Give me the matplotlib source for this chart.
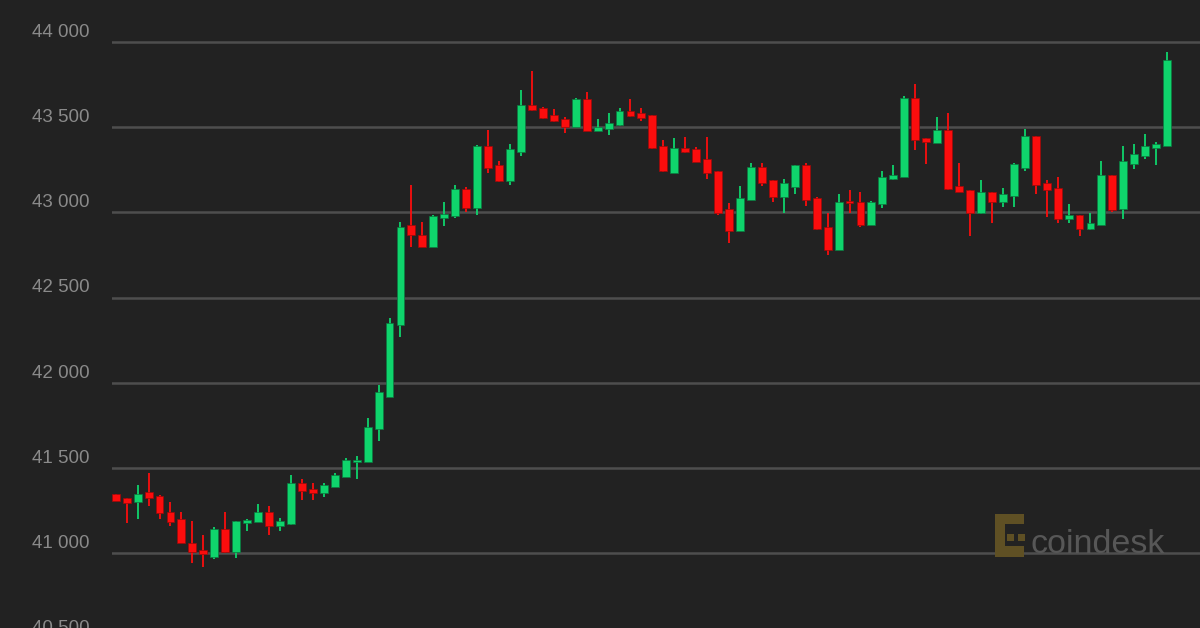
import numpy as np
import matplotlib.pyplot as plt
from matplotlib.patches import Rectangle
from matplotlib.transforms import blended_transform_factory

# OHLC for each candle (BTC/USD)
opens = [41344, 41321, 41297, 41358, 41335, 41243, 41198, 41061, 41018, 40978,
         41141, 41004, 41178, 41184, 41243, 41160, 41170, 41413, 41376, 41354,
         41389, 41444, 41537, 41536, 41726, 41918, 42339, 42926, 42867, 42798,
         42969, 42979, 43137, 43027, 43389, 43276, 43184, 43354, 43628, 43614,
         43569, 43546, 43501, 43663, 43478, 43491, 43513, 43595, 43581, 43569,
         43389, 43233, 43380, 43370, 43311, 43243, 43018, 42890, 43072, 43266,
         43188, 43092, 43151, 43278, 43086, 42916, 42779, 43067, 43063, 42926,
         43051, 43196, 43207, 43673, 43434, 43409, 43481, 43155, 43131, 42994,
         43119, 43061, 43096, 43258, 43448, 43174, 43141, 42963, 42984, 42900,
         42926, 43219, 43018, 43286, 43331, 43380, 43389]
highs = [41346, 41325, 41399, 41472, 41340, 41299, 41243, 41188, 41106, 41151,
         41243, 41190, 41198, 41288, 41276, 41207, 41458, 41432, 41409, 41413,
         41468, 41556, 41569, 41795, 41986, 42382, 42945, 43161, 42945, 42985,
         43059, 43161, 43151, 43395, 43483, 43301, 43403, 43718, 43830, 43616,
         43605, 43562, 43673, 43708, 43546, 43581, 43614, 43663, 43614, 43572,
         43423, 43434, 43444, 43386, 43444, 43245, 43053, 43155, 43292, 43288,
         43190, 43198, 43280, 43292, 43088, 42994, 43106, 43129, 43119, 43065,
         43243, 43276, 43683, 43751, 43436, 43560, 43585, 43288, 43133, 43188,
         43121, 43145, 43288, 43491, 43450, 43188, 43209, 43051, 42986, 42994,
         43301, 43221, 43389, 43403, 43458, 43415, 43941]
lows = [41305, 41174, 41198, 41276, 41198, 41160, 41061, 40939, 40916, 40963,
        41000, 40973, 41129, 41184, 41104, 41129, 41165, 41311, 41311, 41331,
        41389, 41444, 41432, 41536, 41660, 41918, 42270, 42798, 42798, 42798,
        42922, 42965, 43000, 42982, 43233, 43180, 43159, 43331, 43598, 43546,
        43532, 43468, 43500, 43475, 43475, 43454, 43510, 43563, 43536, 43373,
        43240, 43230, 43350, 43294, 43198, 42984, 42822, 42888, 43070, 43155,
        43061, 42996, 43106, 43037, 42895, 42748, 42777, 42998, 42916, 42924,
        43027, 43192, 43205, 43366, 43286, 43407, 43130, 43117, 42861, 42992,
        42939, 43031, 43031, 43243, 43110, 42973, 42939, 42939, 42861, 42894,
        42924, 43004, 42959, 43256, 43311, 43276, 43389]
closes = [41307, 41295, 41344, 41321, 41233, 41184, 41061, 41004, 40994, 41141,
          41004, 41188, 41194, 41243, 41160, 41188, 41413, 41364, 41354, 41399,
          41458, 41546, 41546, 41738, 41943, 42352, 42912, 42867, 42798, 42979,
          42990, 43137, 43024, 43389, 43262, 43184, 43370, 43628, 43601, 43556,
          43536, 43501, 43663, 43478, 43501, 43526, 43595, 43566, 43556, 43376,
          43243, 43380, 43354, 43297, 43233, 42998, 42890, 43086, 43266, 43170,
          43092, 43174, 43278, 43072, 42900, 42779, 43063, 43053, 42924, 43063,
          43209, 43221, 43673, 43423, 43413, 43481, 43135, 43119, 42994, 43119,
          43061, 43106, 43282, 43448, 43160, 43129, 42959, 42984, 42900, 42939,
          43219, 43014, 43301, 43344, 43389, 43403, 43894]

tick_values = [40500, 41000, 41500, 42000, 42500, 43000, 43500, 44000]
tick_labels = ['40 500', '41 000', '41 500', '42 000', '42 500', '43 000', '43 500', '44 000']

bg = '#222222'
up_color = '#0fd46c'
down_color = '#fb0d0d'

W, H = 1200, 628
fig = plt.figure(figsize=(W / 100, H / 100), dpi=100, facecolor=bg)
ax = fig.add_axes([112 / W, 0, 1 - 112 / W, 1])
ax.set_facecolor(bg)

o = np.array(opens)
c = np.array(closes)
x = np.arange(len(o))
up = c >= o
colors = np.where(up, up_color, down_color)
edges = np.where(up, '#0b7a3f', '#a00808')

# gridlines
for v in tick_values:
    ax.axhline(v, color='#4e4e4e', lw=1.8, zorder=0)

# wicks then bodies
ax.vlines(x, lows, highs, colors=colors, lw=1.3, zorder=2)
body_h = np.maximum(np.abs(c - o), 12)
ax.bar(x, body_h, bottom=np.minimum(o, c), width=0.72, color=colors,
       edgecolor=edges, linewidth=0.5, zorder=3)

ax.set_xlim(-0.34, 99.0)
ax.set_ylim(40560, 44247)
ax.axis('off')

# y labels sit just above their gridline, left of the plot
trans = blended_transform_factory(ax.transAxes, ax.transData)
for v, lab in zip(tick_values, tick_labels):
    ax.text(-0.021, v + 30, lab, transform=trans, ha='right', va='baseline',
            fontsize=13.5, color='#8a8a8a', family=['Liberation Sans', 'DejaVu Sans'],
            clip_on=False)

# watermark
def fx(px):
    return px / W

def fy(py):
    return 1 - py / H

logo = '#5f5024'
for (x0, y0, w, h) in [(995, 514, 29, 10), (995, 514, 10, 43), (995, 546, 29, 11),
                       (1007, 534, 7, 7), (1018, 534, 7, 7)]:
    fig.add_artist(Rectangle((fx(x0), fy(y0 + h)), w / W, h / H,
                             transform=fig.transFigure, color=logo, lw=0, zorder=5))
fig.text(fx(1031), fy(553), 'coindesk', fontsize=24.5, color='#575757',
         family=['Liberation Sans', 'DejaVu Sans'], ha='left', va='baseline',
         zorder=5)

fig.savefig('out.png', dpi=100, facecolor=bg)
